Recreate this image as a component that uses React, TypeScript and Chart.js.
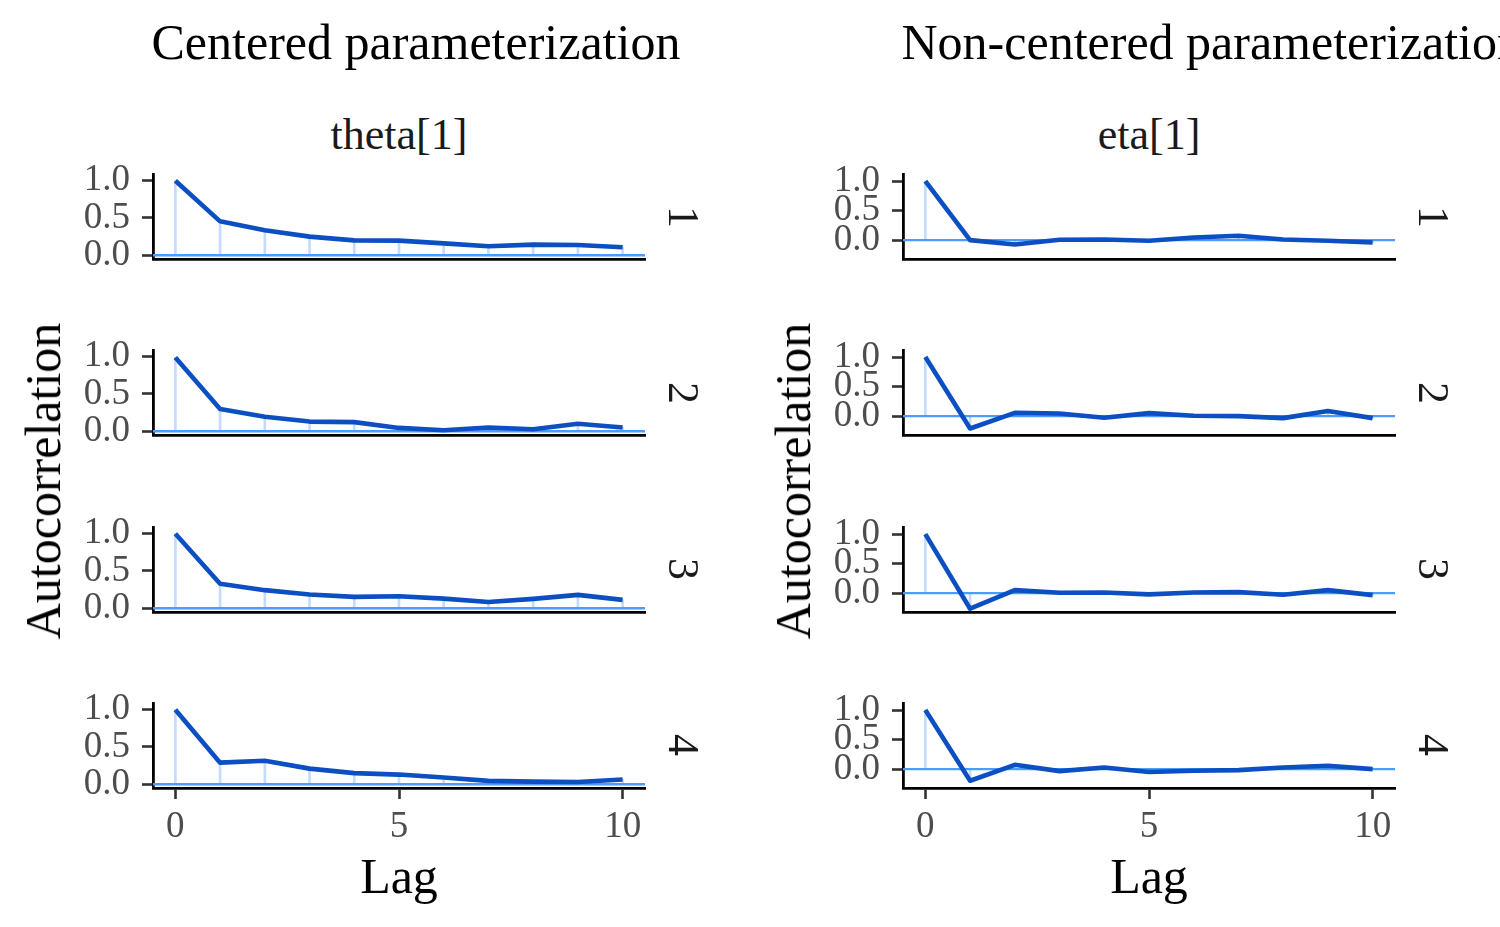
import React, { useEffect, useRef } from "react";
import { Chart, registerables } from "chart.js";

Chart.register(...registerables);

// ---------- data ----------
const LAGS = [0, 1, 2, 3, 4, 5, 6, 7, 8, 9, 10];
const CHAIN_LABELS = ["1", "2", "3", "4"];
const Y_TICKS = [0, 0.5, 1.0];
const X_TICKS = [0, 5, 10];

// Centered parameterization: theta[1], chains 1-4
const CENTERED_CHAIN1 = [1.0, 0.455, 0.335, 0.25, 0.2, 0.196, 0.16, 0.12, 0.143, 0.138, 0.107];
const CENTERED_CHAIN2 = [0.99, 0.3, 0.195, 0.13, 0.123, 0.045, 0.014, 0.05, 0.027, 0.1, 0.05];
const CENTERED_CHAIN3 = [1.0, 0.33, 0.243, 0.185, 0.153, 0.162, 0.13, 0.085, 0.126, 0.18, 0.113];
const CENTERED_CHAIN4 = [1.0, 0.29, 0.315, 0.21, 0.149, 0.13, 0.09, 0.045, 0.036, 0.03, 0.063];

// Non-centered parameterization: eta[1], chains 1-4
const NONCENTERED_CHAIN1 = [1.0, 0.0, -0.074, 0.006, 0.011, -0.011, 0.045, 0.074, 0.011, -0.011, -0.04];
const NONCENTERED_CHAIN2 = [1.0, -0.21, 0.056, 0.045, -0.028, 0.05, 0.006, 0.0, -0.034, 0.085, -0.034];
const NONCENTERED_CHAIN3 = [1.0, -0.264, 0.05, 0.006, 0.011, -0.022, 0.011, 0.017, -0.028, 0.05, -0.034];
const NONCENTERED_CHAIN4 = [1.0, -0.197, 0.073, -0.034, 0.028, -0.05, -0.028, -0.017, 0.028, 0.056, 0.0];

const X_MIN = -0.5;
const X_MAX = 10.5;
const CENTERED_Y_MIN = -0.05;
const CENTERED_Y_MAX = 1.09;
const NONCENTERED_Y_MIN = -0.32;
const NONCENTERED_Y_MAX = 1.12;

// ---------- style / layout ----------
const FONT = '"Liberation Serif", "Times New Roman", "DejaVu Serif", serif';
const LINE_COLOR = "#0b4fc2";
const HLINE_COLOR = "#4a9cff";
const SEG_COLOR = "#c2ddfb";

const PANEL_W = 492;
const PANEL_H = 85;
const PANEL_TOPS = [174, 350, 526.5, 702.5];
const LEFT_PANEL_X = 153;
const RIGHT_PANEL_X = 903;
const YW = 100;
const PT = 40;
const PR = 30;
const XH_INNER = 40;
const XH_BOTTOM = 70;

type FacetProps = {
  values: number[];
  yMin: number;
  yMax: number;
  showX: boolean;
  left: number;
  top: number;
};

function Facet({ values, yMin, yMax, showX, left, top }: FacetProps) {
  const ref = useRef<HTMLCanvasElement>(null);
  const xh = showX ? XH_BOTTOM : XH_INNER;
  const cw = YW + PANEL_W + PR;
  const ch = PT + PANEL_H + xh;

  useEffect(() => {
    if (!ref.current) return;
    const points = LAGS.map((x, i) => ({ x, y: values[i] }));
    const chart = new Chart(ref.current, {
      type: "line",
      data: {
        datasets: [
          {
            type: "line",
            data: points,
            borderColor: LINE_COLOR,
            borderWidth: 4.6,
            pointRadius: 0,
            tension: 0,
            borderJoinStyle: "round",
            order: 1,
          } as any,
          {
            type: "line",
            data: [
              { x: X_MIN, y: 0 },
              { x: X_MAX, y: 0 },
            ],
            borderColor: HLINE_COLOR,
            borderWidth: 2.4,
            pointRadius: 0,
            order: 2,
          } as any,
          {
            type: "bar",
            data: points,
            backgroundColor: SEG_COLOR,
            borderWidth: 0,
            barThickness: 2,
            order: 3,
          } as any,
        ],
      },
      options: {
        animation: false,
        responsive: false,
        devicePixelRatio: 1,
        events: [],
        layout: { padding: { top: PT, right: PR, left: 0, bottom: 0 } },
        plugins: {
          legend: { display: false },
          tooltip: { enabled: false },
          title: { display: false },
        },
        scales: {
          x: {
            type: "linear",
            min: X_MIN,
            max: X_MAX,
            offset: false,
            bounds: "data",
            afterBuildTicks: (s: any) => {
              s.ticks = X_TICKS.map((v) => ({ value: v }));
            },
            afterFit: (s: any) => {
              s.height = xh;
            },
            ticks: {
              display: showX,
              autoSkip: false,
              maxRotation: 0,
              padding: 6,
              color: "#4d4d4d",
              font: { family: FONT, size: 37 },
              callback: (v: any) => String(v),
            },
            grid: {
              display: showX,
              offset: false,
              drawOnChartArea: false,
              drawTicks: true,
              tickLength: 11,
              color: "#333333",
              tickColor: "#333333",
              tickWidth: 2.6,
            },
            border: { display: true, color: "#000000", width: 2.8 },
          },
          y: {
            type: "linear",
            min: yMin,
            max: yMax,
            bounds: "data",
            afterBuildTicks: (s: any) => {
              s.ticks = Y_TICKS.map((v) => ({ value: v }));
            },
            afterFit: (s: any) => {
              s.width = YW;
            },
            ticks: {
              autoSkip: false,
              padding: 12,
              color: "#4d4d4d",
              font: { family: FONT, size: 37 },
              callback: (v: any) => Number(v).toFixed(1),
            },
            grid: {
              display: true,
              offset: false,
              drawOnChartArea: false,
              drawTicks: true,
              tickLength: 11,
              color: "#333333",
              tickColor: "#333333",
              tickWidth: 2.6,
            },
            border: { display: true, color: "#000000", width: 2.8 },
          },
        },
      } as any,
    });
    return () => chart.destroy();
  }, []);

  return (
    <canvas
      ref={ref}
      width={cw}
      height={ch}
      style={{
        position: "absolute",
        left: left - YW,
        top: top - PT,
        width: cw,
        height: ch,
      }}
    />
  );
}

type TxtProps = {
  x: number;
  y: number;
  size: number;
  rotate?: number;
  color?: string;
  children: React.ReactNode;
};

function CenterText({ x, y, size, rotate = 0, color = "#000", children }: TxtProps) {
  return (
    <div
      style={{
        position: "absolute",
        left: x,
        top: y,
        fontFamily: FONT,
        fontSize: size,
        lineHeight: `${size}px`,
        whiteSpace: "nowrap",
        color,
        transform: `translate(-50%, -50%) rotate(${rotate}deg)`,
      }}
    >
      {children}
    </div>
  );
}

function Panel({
  title,
  param,
  series,
  panelX,
  yMin,
  yMax,
}: {
  title: string;
  param: string;
  series: number[][];
  panelX: number;
  yMin: number;
  yMax: number;
}) {
  const cx = panelX + PANEL_W / 2;
  return (
    <>
      <div
        style={{
          position: "absolute",
          left: panelX - 1.5,
          top: 59 - 0.8375 * 50,
          fontFamily: FONT,
          fontSize: 50,
          lineHeight: "50px",
          whiteSpace: "nowrap",
          color: "#000",
        }}
      >
        {title}
      </div>
      <CenterText x={cx} y={135} size={44} color="#1a1a1a">
        {param}
      </CenterText>
      {series.map((vals, i) => (
        <React.Fragment key={i}>
          <Facet
            values={vals}
            yMin={yMin}
            yMax={yMax}
            showX={i === series.length - 1}
            left={panelX}
            top={PANEL_TOPS[i]}
          />
          <CenterText
            x={panelX + PANEL_W + 38}
            y={PANEL_TOPS[i] + PANEL_H / 2}
            size={44}
            rotate={90}
            color="#1a1a1a"
          >
            {CHAIN_LABELS[i]}
          </CenterText>
        </React.Fragment>
      ))}
      <CenterText x={panelX - 110} y={481} size={50} rotate={-90}>
        Autocorrelation
      </CenterText>
      <CenterText x={cx} y={876} size={50}>
        Lag
      </CenterText>
    </>
  );
}

export default function App() {
  return (
    <div
      style={{
        position: "absolute",
        left: 0,
        top: 0,
        width: 1500,
        height: 927,
        overflow: "hidden",
        background: "#ffffff",
      }}
    >
      <Panel
        title="Centered parameterization"
        param="theta[1]"
        series={[CENTERED_CHAIN1, CENTERED_CHAIN2, CENTERED_CHAIN3, CENTERED_CHAIN4]}
        panelX={LEFT_PANEL_X}
        yMin={CENTERED_Y_MIN}
        yMax={CENTERED_Y_MAX}
      />
      <Panel
        title="Non-centered parameterization"
        param="eta[1]"
        series={[NONCENTERED_CHAIN1, NONCENTERED_CHAIN2, NONCENTERED_CHAIN3, NONCENTERED_CHAIN4]}
        panelX={RIGHT_PANEL_X}
        yMin={NONCENTERED_Y_MIN}
        yMax={NONCENTERED_Y_MAX}
      />
    </div>
  );
}
